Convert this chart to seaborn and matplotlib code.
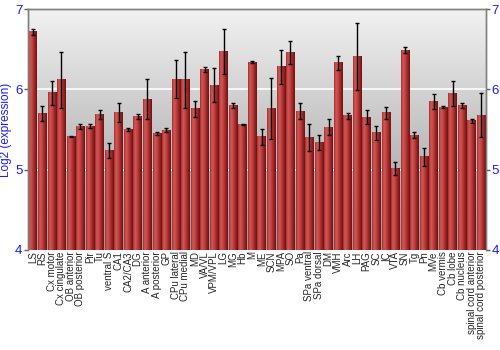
import numpy as np
import pandas as pd
import matplotlib
matplotlib.use("Agg")
import matplotlib.pyplot as plt
from matplotlib.colors import LinearSegmentedColormap
import seaborn as sns

regions = ["LS", "RS", "Cx motor", "Cx cingulate", "OB anterior", "OB posterior", "Pir", "Tu",
           "ventral S", "CA1", "CA2/CA3", "DG", "A anterior", "A posterior", "GP",
           "CPu lateral", "CPu medial", "MD", "VA/VL", "VPM/VPL", "LG", "MG", "Hb", "M", "ME",
           "SCN", "MPA", "SO", "Pa", "SPa ventral", "SPa dorsal", "DM", "VMH", "Arc", "LH",
           "PAG", "SC", "IC", "VTA", "SN", "Tg", "Pn", "MVe", "Cb vermis", "Cb lobe",
           "Cb nucleus", "spinal cord anterior", "spinal cord posterior"]
expression = [6.72, 5.70, 5.96, 6.12, 5.41, 5.54, 5.54, 5.69,
              5.24, 5.71, 5.50, 5.66, 5.88, 5.45, 5.49,
              6.13, 6.12, 5.76, 6.25, 6.05, 6.47, 5.80, 5.56, 6.34, 5.41,
              5.76, 6.28, 6.46, 5.73, 5.40, 5.34, 5.53, 6.33, 5.67, 6.41,
              5.65, 5.46, 5.71, 5.01, 6.49, 5.43, 5.16, 5.85, 5.78, 5.95,
              5.80, 5.61, 5.68]
errors = [0.037, 0.095, 0.15, 0.35, 0.005, 0.033, 0.027, 0.058,
          0.09, 0.12, 0.015, 0.027, 0.255, 0.02, 0.025,
          0.24, 0.35, 0.10, 0.03, 0.21, 0.28, 0.027, 0.005, 0.017, 0.10,
          0.38, 0.21, 0.145, 0.10, 0.165, 0.095, 0.095, 0.09, 0.04, 0.42,
          0.087, 0.085, 0.075, 0.08, 0.04, 0.04, 0.115, 0.09, 0.01, 0.16,
          0.03, 0.023, 0.27]
y_ticks = [4, 5, 6, 7]

df = pd.DataFrame({"region": regions, "expr": expression})

sns.set_style("white")
plt.rcParams["font.family"] = ["Liberation Sans", "DejaVu Sans"]

fig = plt.figure(figsize=(5, 3.5), dpi=100)
ax = fig.add_axes([0.056, 0.286, 0.916, 0.688])

sns.barplot(data=df, x="region", y="expr", color="#b03030", width=0.9,
            errorbar=None, ax=ax, zorder=3)
ax.set_ylim(4, 7)
ax.set_xlim(-0.5, len(regions) - 0.5)
ymin = ax.get_ylim()[0]

# background gradient
bg = LinearSegmentedColormap.from_list("bg", ["#9a9a9a", "#c4c4c4", "#f2f2f2"])
grad = np.linspace(0, 1, 256).reshape(-1, 1)
ax.imshow(grad, extent=[0, 1, 0, 1], transform=ax.transAxes, origin="lower",
          aspect="auto", cmap=bg, zorder=0)
ax.set_facecolor("none")

# grid lines
for v in [5, 6]:
    ax.axhline(v, color="white", lw=1.4, alpha=0.85, zorder=1)

# gradient bars
barmap = LinearSegmentedColormap.from_list(
    "bar", [(0.0, "#9a2828"), (0.12, "#c84a4a"), (0.3, "#cf5656"),
            (0.6, "#b03434"), (1.0, "#701010")])
hgrad = np.linspace(0, 1, 64).reshape(1, -1)
for p in ax.patches:
    x0, y0, w, h = p.get_x(), p.get_y(), p.get_width(), p.get_height()
    top = y0 + h
    ax.imshow(hgrad, extent=[x0, x0 + w, max(y0, ymin), top], aspect="auto",
              cmap=barmap, zorder=3, origin="lower")
    p.set_facecolor("none")
    p.set_edgecolor("none")

ax.errorbar(np.arange(len(regions)), expression, yerr=errors, fmt="none",
            ecolor="black", elinewidth=1, capsize=1.6, capthick=1, zorder=4)

ax.set_xlim(-0.5, len(regions) - 0.5)
ax.set_ylim(4, 7)
ax.set_yticks(y_ticks)
ax.set_xlabel("")
ax.set_ylabel("Log2 (expression)", color="#1a1aff", fontsize=8.5, labelpad=2)
ax.tick_params(axis="x", length=0, labelsize=7, rotation=90, pad=1)
ax.tick_params(axis="y", length=3, width=1, color="#606060", labelcolor="#1a1aff",
               labelsize=9.5, pad=1, left=True)

ax2 = ax.twinx()
ax2.set_ylim(4, 7)
ax2.set_yticks(y_ticks)
ax2.tick_params(axis="y", length=3, width=1, color="#606060", labelcolor="#1a1aff",
                labelsize=9.5, pad=1, right=True)
for a in (ax, ax2):
    for s in ["top", "left", "right"]:
        a.spines[s].set_color("#808080")
        a.spines[s].set_linewidth(1)
    a.spines["bottom"].set_visible(False)

fig.savefig("out.png", dpi=100)
